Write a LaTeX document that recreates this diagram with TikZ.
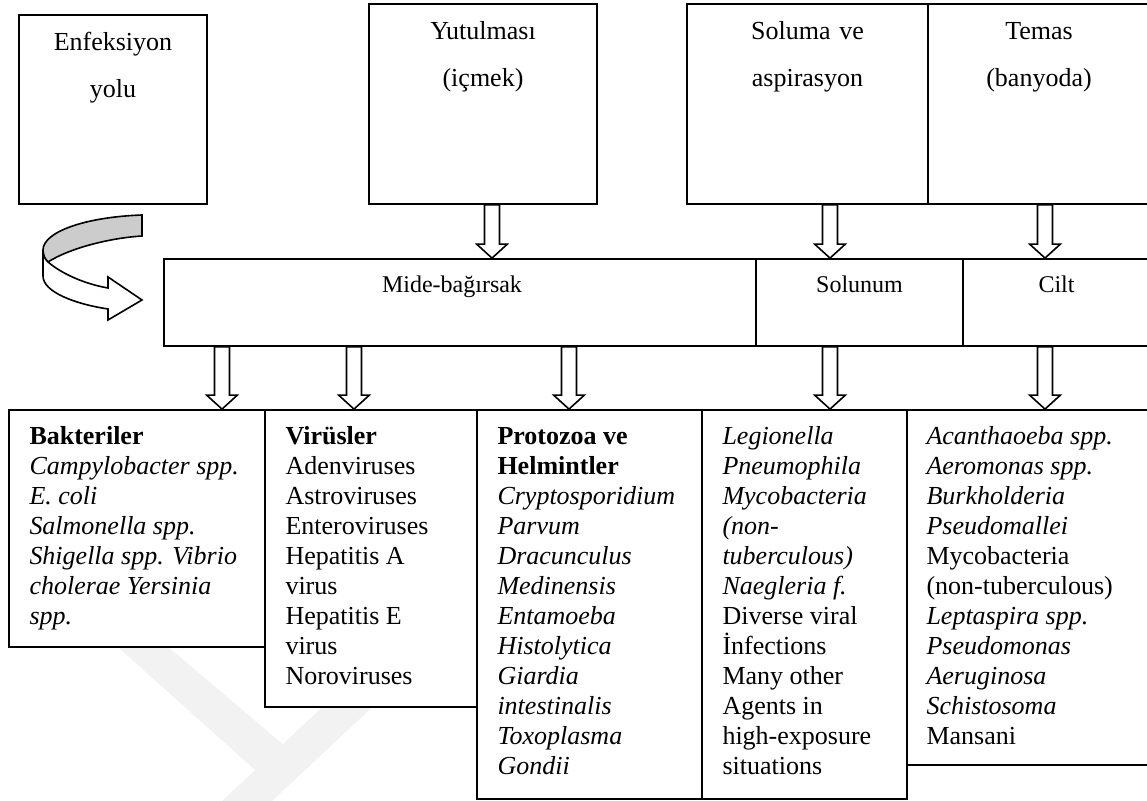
\documentclass[tikz,border=0pt]{standalone}
\usepackage{fontspec}
\setmainfont{Liberation Serif}
\usetikzlibrary{calc,fit}

\tikzset{
  box/.style={draw, fill=white, line width=0.9pt, inner sep=0pt},
  toplabel/.style={font=\fontsize{13}{23.5}\selectfont, text width=110pt, align=center, inner sep=0pt},
  midlabel/.style={font=\fontsize{12}{14}\selectfont, inner sep=0pt},
  listlabel/.style={font=\fontsize{13}{15}\selectfont, text width=115pt, align=flush left, inner sep=0pt},
  fatarrow/.style={draw, fill=white, line width=0.8pt, to path={
    let \p1=(\tikztostart), \p2=(\tikztotarget) in
    (\x1-3.75pt,\y1) -- (\x1+3.75pt,\y1) -- (\x1+3.75pt,\y2+7pt) -- (\x1+7.7pt,\y2+7pt)
    -- (\x1,\y2) -- (\x1-7.7pt,\y2+7pt) -- (\x1-3.75pt,\y2+7pt) -- cycle}}
}

\begin{document}
\begin{tikzpicture}[x=0.5pt,y=-0.5pt]
    \clip (0,0) rectangle (1147,801);

    % Watermark
    \fill[black!5] (110,640) -- (160,640) -- (292,752) -- (264,778) -- cycle;
    \fill[black!5] (222,801) -- (272,801) -- (380,700) -- (330,700) -- cycle;

    % Top boxes
    \node[box, fit={(19,15) (207,204)}] (enf) {};
    \node[box, fit={(369,4) (597,204)}] (yut) {};
    \node[box, fit={(687,4) (928,204)}] (sol) {};
    \node[box, fit={(928,4) (1150,204)}] (tem) {};

    \node[toplabel, anchor=base] at ([yshift=-18pt]enf.north) {Enfeksiyon\\yolu};
    \node[toplabel, anchor=base] at ([yshift=-18pt]yut.north) {Yutulması\\(içmek)};
    \node[toplabel, anchor=base] at ([yshift=-18pt]sol.north) {Soluma ve\\aspirasyon};
    \node[toplabel, anchor=base] at ([yshift=-18pt]tem.north) {Temas\\(banyoda)};

    % Middle row
    \node[box, fit={(164,259) (756,346)}] (mide) {};
    \node[box, fit={(756,259) (963,346)}] (solunum) {};
    \node[box, fit={(963,259) (1150,346)}] (cilt) {};

    \node[midlabel, anchor=base] at ([xshift=-4pt,yshift=-17pt]mide.north) {Mide-bağırsak};
    \node[midlabel, anchor=base] at ([yshift=-17pt]solunum.north) {Solunum};
    \node[midlabel, anchor=base] at ([yshift=-17pt]cilt.north) {Cilt};

    % Bottom boxes
    \node[box, fit={(9,410) (265,647)}] (bak) {};
    \node[box, fit={(265,410) (477,707)}] (vir) {};
    \node[box, fit={(477,410) (702,799)}] (pro) {};
    \node[box, fit={(702,410) (907,799)}] (leg) {};
    \node[box, fit={(907,410) (1150,765)}] (aca) {};

    \node[listlabel, anchor=base west] at ([xshift=10.5pt,yshift=-17.5pt]bak.north west)
      {\textbf{Bakteriler}\\\textit{Campylobacter spp.}\\\textit{E. coli}\\\textit{Salmonella spp.}\\
       \textit{Shigella spp. Vibrio}\\\textit{cholerae Yersinia}\\\textit{spp.}};
    \node[listlabel, anchor=base west] at ([xshift=10.5pt,yshift=-17.5pt]vir.north west)
      {\textbf{Virüsler}\\Adenviruses\\Astroviruses\\Enteroviruses\\Hepatitis A\\virus\\
       Hepatitis E\\virus\\Noroviruses};
    \node[listlabel, anchor=base west] at ([xshift=10.5pt,yshift=-17.5pt]pro.north west)
      {\textbf{Protozoa ve}\\\textbf{Helmintler}\\\textit{Cryptosporidium}\\\textit{Parvum}\\
       \textit{Dracunculus}\\\textit{Medinensis}\\\textit{Entamoeba}\\\textit{Histolytica}\\
       \textit{Giardia}\\\textit{intestinalis}\\\textit{Toxoplasma}\\\textit{Gondii}};
    \node[listlabel, anchor=base west] at ([xshift=10.5pt,yshift=-17.5pt]leg.north west)
      {\textit{Legionella}\\\textit{Pneumophila}\\\textit{Mycobacteria}\\\textit{(non-}\\
       \textit{tuberculous)}\\\textit{Naegleria f.}\\Diverse viral\\İnfections\\Many other\\
       Agents in\\high-exposure\\situations};
    \node[listlabel, anchor=base west] at ([xshift=10pt,yshift=-17.5pt]aca.north west)
      {\textit{Acanthaoeba spp.}\\\textit{Aeromonas spp.}\\\textit{Burkholderia}\\
       \textit{Pseudomallei}\\Mycobacteria\\(non-tuberculous)\\\textit{Leptaspira spp.}\\
       \textit{Pseudomonas}\\\textit{Aeruginosa}\\\textit{Schistosoma}\\Mansani};

    % Arrow columns
    \coordinate (c1) at (492,0);
    \coordinate (c2) at (830,0);
    \coordinate (c3) at (1045,0);
    \coordinate (d1) at (222,0);
    \coordinate (d2) at (354,0);
    \coordinate (d3) at (569,0);

    % Arrows
    \draw[fatarrow] (yut.south -| c1) to (mide.north -| c1);
    \draw[fatarrow] (sol.south -| c2) to (solunum.north -| c2);
    \draw[fatarrow] (tem.south -| c3) to (cilt.north -| c3);
    \draw[fatarrow] (mide.south -| d1) to (bak.north -| d1);
    \draw[fatarrow] (mide.south -| d2) to (vir.north -| d2);
    \draw[fatarrow] (mide.south -| d3) to (pro.north -| d3);
    \draw[fatarrow] (solunum.south -| c2) to (leg.north -| c2);
    \draw[fatarrow] (cilt.south -| c3) to (aca.north -| c3);

    % Curved arrow
    \draw[line width=0.8pt, fill=black!20] (142,215) .. controls (85,217) and (43,232) .. (43,250)
      .. controls (43,256) and (45,259) .. (48,262) .. controls (70,248) and (110,238) .. (142,236) -- cycle;
    \draw[line width=0.8pt, fill=white] (48,262) .. controls (62,274) and (85,284) .. (108,288)
      -- (108,277) -- (142,300) -- (108,320) -- (108,309) .. controls (75,304) and (43,292) .. (43,276)
      -- (43,250) .. controls (43,256) and (45,259) .. (48,262) -- cycle;
\end{tikzpicture}
\end{document}
